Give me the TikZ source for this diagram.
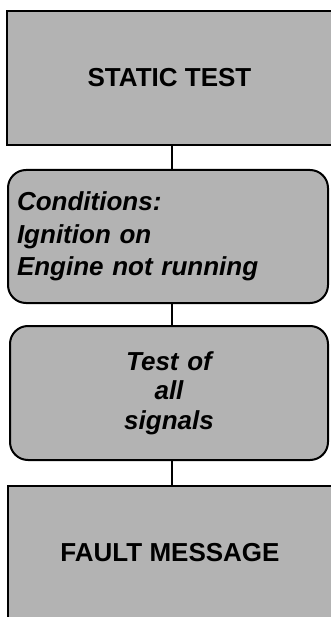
\documentclass[tikz,border=0pt]{standalone}
\usepackage{fontspec}
\setmainfont{Liberation Sans}
\definecolor{boxgray}{RGB}{179,179,179}
\begin{document}
\begin{tikzpicture}[x=1pt,y=-1pt,
  box/.style={draw=black,fill=boxgray,line width=2pt,inner sep=0pt,
    font=\fontsize{26}{32.5}\selectfont\bfseries},
  rbox/.style={box,rounded corners=18pt,font=\fontsize{26}{32.5}\selectfont\bfseries\itshape},
  link/.style={line width=1.6pt}]
\useasboundingbox (0,0) rectangle (330,617);
\coordinate (spine) at (172,0);
\node[box,minimum width=325pt,minimum height=134pt] (b1) at (169.5,78) {STATIC TEST};
\node[rbox,minimum width=320pt,minimum height=133pt,text width=302pt,inner xsep=9pt,align=left] (b2) at (168,236.5) {Conditions:\\Ignition on\\Engine not running};
\node[rbox,minimum width=318pt,minimum height=134pt,text width=300pt,inner xsep=9pt,align=center] (b3) at (169,393) {Test of\\[-3pt]all\\[-3pt]signals};
\node[box,minimum width=324pt,minimum height=134pt] (b4) at (170,553) {FAULT MESSAGE};
\draw[link] (b1.south -| spine) -- (b2.north -| spine);
\draw[link] (b2.south -| spine) -- (b3.north -| spine);
\draw[link] (b3.south -| spine) -- (b4.north -| spine);
\end{tikzpicture}
\end{document}
